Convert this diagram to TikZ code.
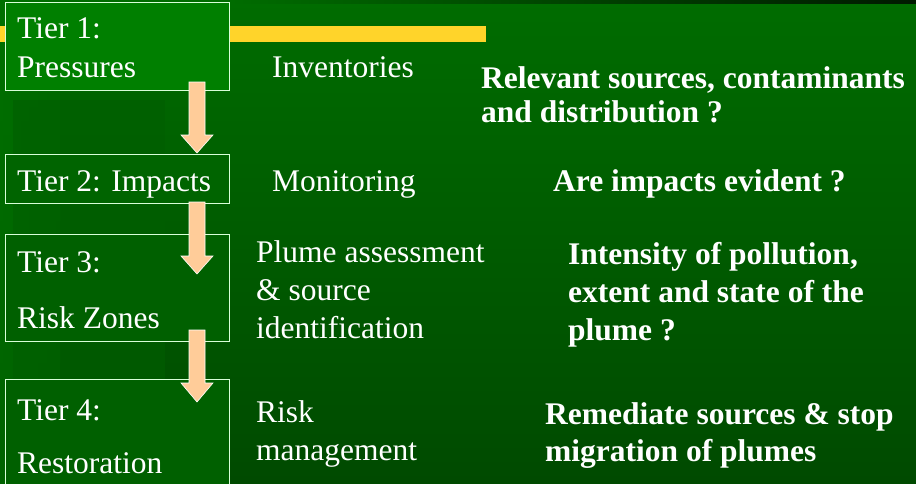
\documentclass[tikz,border=0pt]{standalone}
\usepackage{fontspec}
\setmainfont{Liberation Serif}
\definecolor{bgtop}{HTML}{006C00}
\definecolor{bgbot}{HTML}{004A00}
\definecolor{boxa}{HTML}{007F00}
\definecolor{boxb}{HTML}{006400}
\definecolor{boxc}{HTML}{006000}
\definecolor{colshade}{HTML}{005E00}
\definecolor{barcol}{RGB}{255,212,42}
\definecolor{arrowfill}{HTML}{FFCC99}
\tikzset{
  tierbox/.style={draw=white!85!green, line width=0.9pt, anchor=north west, minimum width=224pt, inner sep=0pt},
  txt/.style={text=white, anchor=base west, inner sep=0pt, font=\fontsize{31.5}{38}\selectfont},
  btxt/.style={txt, font=\fontsize{31.5}{38}\selectfont\bfseries},
  fatarrow/.style={fill=arrowfill, draw=white, line width=0.6pt, line join=miter},
  yellowbar/.style={fill=barcol, draw=none}
}
\newcommand{\fatarr}[3]{% #1 top y, #2 head start y, #3 tip y
  \path[fatarrow] (189,#1) -- (205,#1) -- (205,#2) -- (213,#2) -- (197,#3) -- (181,#2) -- (189,#2) -- cycle;}
\begin{document}
\begin{tikzpicture}[x=1pt,y=-1pt]
\useasboundingbox (0,0) rectangle (916,483);
% background
\shade[top color=bgtop, bottom color=bgbot] (0,0) rectangle (916,483);
\shade[left color=green!45!black, right color=bgtop, opacity=0.6] (0,0) rectangle (60,483);
\shade[left color=bgtop, right color=black!90!green] (230,0) rectangle (916,3);
\path[fill=colshade, fill opacity=0.6] (13,100) rectangle (165,460);
% yellow bar
\path[yellowbar] (0,26) rectangle (486,42);
% tier boxes
\node[tierbox, fill=boxa, minimum height=88pt] (t1) at (5,2) {};
\node[tierbox, fill=boxb, minimum height=49pt] (t2) at (5,154) {};
\node[tierbox, fill=boxc, minimum height=107pt] (t3) at (5,234) {};
\node[tierbox, fill=boxc, minimum height=110pt] (t4) at (5,379) {};
% arrows
\fatarr{82}{135}{153}
\fatarr{202}{256}{274}
\fatarr{330}{383}{402}
% tier texts
\node[txt] (t1a) at (17,38) {Tier 1:};
\node[txt] (t1b) at (17,77) {Pressures};
\node[txt] (t2a) at (17,191) {Tier 2: Impacts};
\node[txt] (t3a) at (17,272) {Tier 3:};
\node[txt] (t3b) at (17,328) {Risk Zones};
\node[txt] (t4a) at (17,420) {Tier 4:};
\node[txt] (t4b) at (17,473) {Restoration};
% methods
\node[txt] (m1) at (272,77) {Inventories};
\node[txt] (m2) at (272,191) {Monitoring};
\node[txt] (m3a) at (256,262) {Plume assessment};
\node[txt] (m3b) at (256,300) {\& source};
\node[txt] (m3c) at (256,338) {identification};
\node[txt] (m4a) at (256,422) {Risk};
\node[txt] (m4b) at (256,460) {management};
% questions
\node[btxt] (q1a) at (481,88) {Relevant sources, contaminants};
\node[btxt] (q1b) at (481,122) {and distribution ?};
\node[btxt] (q2) at (553,191) {Are impacts evident ?};
\node[btxt] (q3a) at (568,264) {Intensity of pollution,};
\node[btxt] (q3b) at (568,302) {extent and state of the};
\node[btxt] (q3c) at (568,340) {plume ?};
\node[btxt] (q4a) at (545,424) {Remediate sources \& stop};
\node[btxt] (q4b) at (545,461) {migration of plumes};
\end{tikzpicture}
\end{document}
